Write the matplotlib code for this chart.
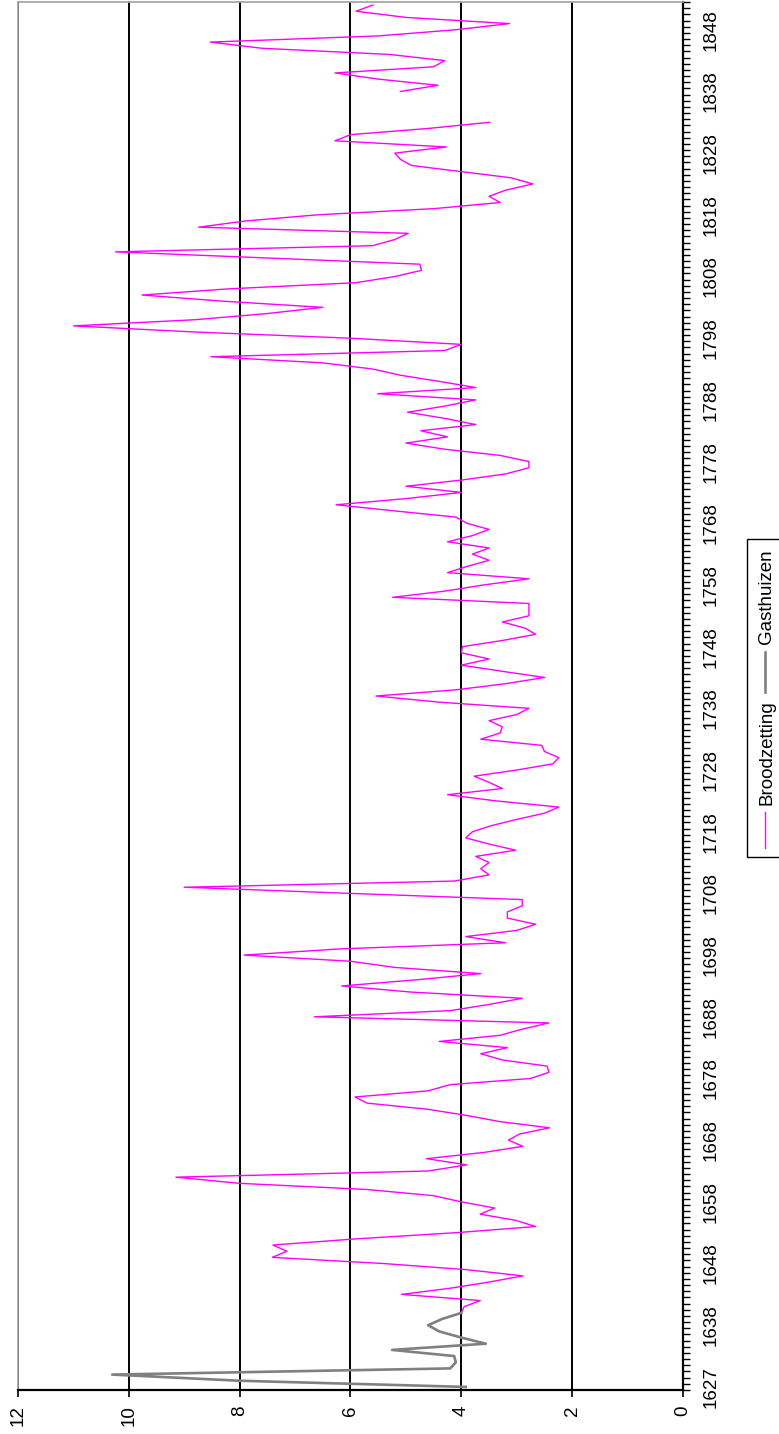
"""Broodzetting vs Gasthuizen, Excel-style line chart turned on its side -> out.png."""

import matplotlib
matplotlib.use("Agg")
import matplotlib.pyplot as plt
from matplotlib.lines import Line2D
from matplotlib.patches import Rectangle
import numpy as np

plt.rcParams["font.family"] = ["Liberation Sans", "DejaVu Sans"]

# Category axis: one category per year (1628 is not in the sheet).
YEARS = [1627] + list(range(1629, 1853))

# Series values, one per category (None = no data).
BROODZETTING = [
    None, None, None, None, None, None, None, 3.56, 4.0, 4.4,
    4.6, 4.35, 4.0, 3.95, 3.66, 5.08, 4.2, 3.5, 2.89, 3.9,
    5.4, 7.41, 7.15, 7.4, 5.9, 4.1, 2.66, 3.02, 3.66, 3.4,
    4.0, 4.5, 5.7, 8.0, 9.15, 4.6, 3.9, 4.63, 3.6, 2.89,
    3.15, 2.95, 2.41, 3.3, 3.9, 4.6, 5.7, 5.92, 4.6, 4.2,
    2.75, 2.42, 2.45, 3.26, 3.65, 3.17, 4.4, 3.3, 2.9, 2.42,
    6.65, 4.2, 3.5, 2.9, 4.9, 6.16, 4.8, 3.65, 5.2, 6.0,
    7.92, 6.2, 3.2, 3.92, 3.0, 2.66, 3.17, 3.17, 2.9, 2.9,
    6.0, 9.0, 4.13, 3.5, 3.65, 3.5, 3.74, 3.02, 3.5, 3.92,
    3.8, 3.45, 3.0, 2.5, 2.24, 3.38, 4.25, 3.26, 3.5, 3.77,
    3.0, 2.35, 2.24, 2.5, 2.55, 3.65, 3.3, 3.26, 3.5, 3.0,
    2.78, 4.4, 5.54, 4.1, 3.2, 2.5, 3.26, 4.0, 3.5, 4.0,
    3.98, 3.26, 2.66, 2.85, 3.26, 2.78, 2.78, 2.78, 5.24, 4.3,
    3.6, 2.78, 4.25, 3.9, 3.5, 3.8, 3.5, 4.25, 3.8, 3.5,
    3.9, 4.1, 5.2, 6.26, 5.0, 4.0, 5.0, 4.0, 3.2, 2.78,
    2.78, 3.3, 4.3, 5.0, 4.25, 4.73, 3.74, 4.3, 4.97, 4.3,
    3.74, 5.51, 3.74, 4.4, 5.1, 5.6, 6.5, 8.52, 4.3, 4.0,
    6.0, 8.8, 11.0, 8.8, 7.5, 6.5, 8.3, 9.76, 8.2, 5.9,
    5.2, 4.72, 4.75, 7.5, 10.24, 5.6, 5.2, 4.96, 8.74, 7.9,
    6.6, 4.5, 3.3, 3.5, 3.2, 2.71, 3.1, 4.0, 4.9, 5.1,
    5.2, 4.27, 6.28, 6.0, 4.6, 3.49, None, None, None, None,
    5.1, 4.42, 5.5, 6.28, 4.5, 4.3, 5.3, 7.6, 8.53, 5.5,
    4.1, 3.13, 5.0, 5.9, 5.6,
]
GASTHUIZEN = [
    3.92, 8.0, 10.3, 4.2, 4.1, 4.13, 5.25, 3.56, 4.0, 4.4,
    4.6, 4.35, 4.0,
] + [None] * (len(YEARS) - 13)

VALUE_TICKS = [0, 2, 4, 6, 8, 10, 12]
LABEL_EVERY = 10

PINK = "#ff00ff"
GREY = "#808080"


def as_array(values):
    return np.array([np.nan if v is None else v for v in values], dtype=float)


def main():
    W, H = 779, 1434
    fig = plt.figure(figsize=(W / 100, H / 100), dpi=100)
    ax = fig.add_axes([18 / W, 44 / H, 665 / W, 1388 / H])

    cat = np.arange(len(YEARS))
    ax.plot(as_array(BROODZETTING), cat, color=PINK, lw=1.0, zorder=3)
    ax.plot(as_array(GASTHUIZEN), cat, color=GREY, lw=1.9, zorder=4)

    # value axis runs right-to-left along the bottom
    ax.set_xlim(12, 0)
    ax.set_xticks(VALUE_TICKS)
    ax.set_xticklabels([str(v) for v in VALUE_TICKS], rotation=90,
                       fontsize=13.5)
    ax.tick_params(axis="x", direction="out", length=5, width=1.2,
                   color="black", pad=6)
    ax.grid(axis="x", color="black", lw=1.4, zorder=1)

    # category axis on the right, labels every 10th year
    ax.set_ylim(-0.5, len(YEARS) - 0.5)
    ax.yaxis.tick_right()
    label_pos = cat[::LABEL_EVERY]
    ax.set_yticks(label_pos)
    ax.set_yticklabels([str(YEARS[i]) for i in label_pos], rotation=90,
                       va="center", fontsize=13.5)
    ax.set_yticks(np.arange(-0.5, len(YEARS), 1.0), minor=True)
    ax.tick_params(axis="y", which="major", length=0, pad=14)
    ax.tick_params(axis="y", which="minor", direction="out", length=5,
                   width=1.0, color="black", right=True, left=False)

    for side in ("left", "top"):
        ax.spines[side].set_color("#a0a0a0")
        ax.spines[side].set_linewidth(1.2)
    for side in ("right", "bottom"):
        ax.spines[side].set_color("black")
        ax.spines[side].set_linewidth(1.6)

    # legend box, drawn sideways like the rest of the chart
    def fy(px):
        return 1 - px / H

    fig.patches.append(Rectangle((747 / W, fy(857)), 0.2, fy(539) - fy(857),
                                 transform=fig.transFigure, fill=False,
                                 edgecolor="black", lw=1.0))
    fig.lines.append(Line2D([765 / W, 765 / W], [fy(848), fy(812)],
                            transform=fig.transFigure, color=PINK, lw=1.0))
    fig.text(767 / W, fy(753), "Broodzetting", rotation=90, ha="center",
             va="center", fontsize=13.5)
    fig.lines.append(Line2D([765 / W, 765 / W], [fy(692), fy(652)],
                            transform=fig.transFigure, color=GREY, lw=1.9))
    fig.text(767 / W, fy(597), "Gasthuizen", rotation=90, ha="center",
             va="center", fontsize=13.5)

    fig.savefig("out.png", dpi=100)


if __name__ == "__main__":
    main()
